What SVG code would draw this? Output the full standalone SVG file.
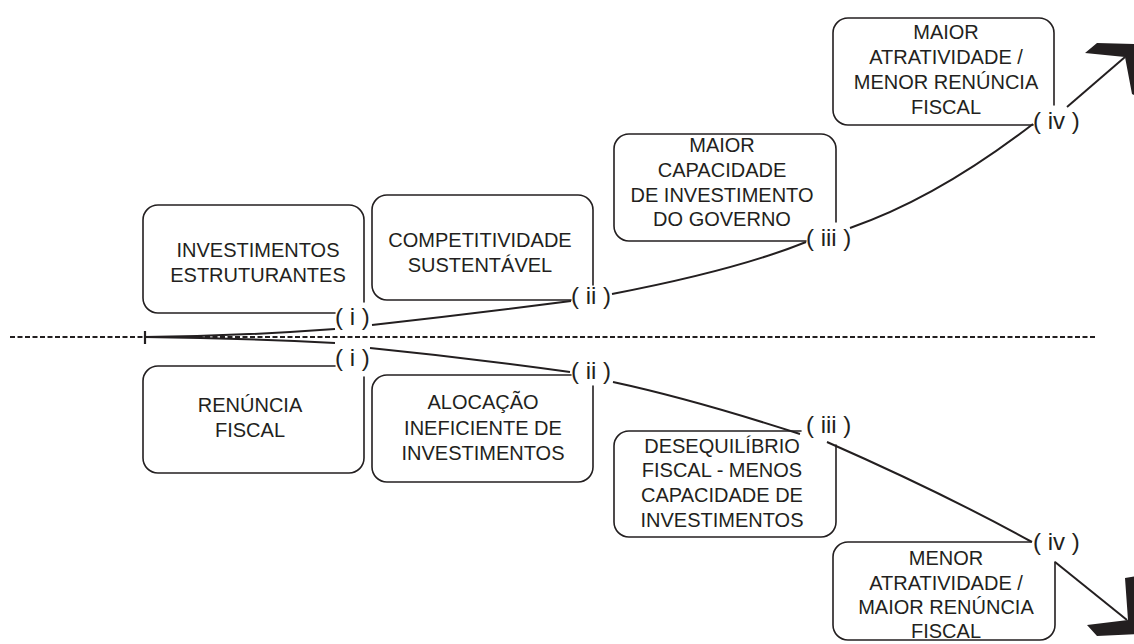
<svg xmlns="http://www.w3.org/2000/svg" width="1134" height="644" viewBox="0 0 1134 644">
  <style>
    .box { fill: none; stroke: #231f20; stroke-width: 1.6; stroke-linecap: round; }
    .txt { font-family: "Liberation Sans", Arial, sans-serif; font-size: 20px; fill: #231f20; text-anchor: middle; }
    .lbl { font-family: "Liberation Sans", Arial, sans-serif; font-size: 24px; fill: #231f20; }
    .conn { fill: none; stroke: #231f20; stroke-width: 2; }
    .head { fill: #231f20; stroke: none; }
  </style>
  <rect width="1134" height="644" fill="#ffffff"/>

  <!-- baseline -->
  <line x1="10" y1="337" x2="1095" y2="337" stroke="#231f20" stroke-width="2" stroke-dasharray="5 2.5"/>

  <!-- connectors -->
  <g id="connectors">
    <line x1="145" y1="331" x2="145" y2="344" stroke="#231f20" stroke-width="2.2"/>
    <!-- upper path -->
    <path class="conn" d="M145,337 Q240,336 335,329"/>
    <path class="conn" d="M372,325 Q470,314 571,301"/>
    <path class="conn" d="M612,294 Q737,270 806,242"/>
    <path class="conn" d="M850,228 Q937,198 1033,124"/>
    <path class="conn" d="M1067,107 L1125,57"/>
    <polygon class="head" points="1085,53 1097,43 1138,44 1140,98 1132,94 1125,57"/>
    <!-- lower path -->
    <path class="conn" d="M145,337 Q240,338 335,343"/>
    <path class="conn" d="M370,348 Q470,358 570,372"/>
    <path class="conn" d="M613,382 Q692,399 800,434"/>
    <path class="conn" d="M827,442 Q943,493 1032,542"/>
    <path class="conn" d="M1055,562 L1127,620"/>
    <polygon class="head" points="1125,578 1138,576 1138,634 1097,636 1087,625 1128,620"/>
  </g>

  <!-- upper nodes -->
  <g id="investimentos-estruturantes">
    <path class="box" d="M364,302 L364,220 A15,15 0 0 0 349,205 L158,205 A15,15 0 0 0 143,220 L143,298 A15,15 0 0 0 158,313 L335,313"/>
    <text class="txt" x="258" y="257">INVESTIMENTOS</text>
    <text class="txt" x="258" y="282">ESTRUTURANTES</text>
    <text class="lbl" x="335" y="325">( i )</text>
  </g>
  <g id="competitividade-sustentavel">
    <path class="box" d="M593,285 L593,210 A15,15 0 0 0 578,195 L387,195 A15,15 0 0 0 372,210 L372,285 A15,15 0 0 0 387,300 L571,300"/>
    <text class="txt" x="480" y="247">COMPETITIVIDADE</text>
    <text class="txt" x="480" y="272">SUSTENTÁVEL</text>
    <text class="lbl" x="571" y="304">( ii )</text>
  </g>
  <g id="maior-capacidade">
    <path class="box" d="M836,222 L836,149 A15,15 0 0 0 821,134 L629,134 A15,15 0 0 0 614,149 L614,226 A15,15 0 0 0 629,241 L806,241"/>
    <text class="txt" x="722" y="152">MAIOR</text>
    <text class="txt" x="722" y="177">CAPACIDADE</text>
    <text class="txt" x="722" y="202">DE INVESTIMENTO</text>
    <text class="txt" x="722" y="226">DO GOVERNO</text>
    <text class="lbl" x="806" y="246">( iii )</text>
  </g>
  <g id="maior-atratividade">
    <path class="box" d="M1054,105 L1054,33 A15,15 0 0 0 1039,18 L848,18 A15,15 0 0 0 833,33 L833,110 A15,15 0 0 0 848,125 L1033,125"/>
    <text class="txt" x="946" y="39">MAIOR</text>
    <text class="txt" x="946" y="64">ATRATIVIDADE /</text>
    <text class="txt" x="946" y="89">MENOR RENÚNCIA</text>
    <text class="txt" x="946" y="114">FISCAL</text>
    <text class="lbl" x="1033" y="129">( iv )</text>
  </g>

  <!-- lower nodes -->
  <g id="renuncia-fiscal">
    <path class="box" d="M335,366 L158,366 A15,15 0 0 0 143,381 L143,458 A15,15 0 0 0 158,473 L349,473 A15,15 0 0 0 364,458 L364,377"/>
    <text class="txt" x="250" y="412">RENÚNCIA</text>
    <text class="txt" x="250" y="437">FISCAL</text>
    <text class="lbl" x="335" y="366">( i )</text>
  </g>
  <g id="alocacao-ineficiente">
    <path class="box" d="M571,375 L387,375 A15,15 0 0 0 372,390 L372,467 A15,15 0 0 0 387,482 L578,482 A15,15 0 0 0 593,467 L593,386"/>
    <text class="txt" x="483" y="409">ALOCAÇÃO</text>
    <text class="txt" x="483" y="435">INEFICIENTE DE</text>
    <text class="txt" x="483" y="460">INVESTIMENTOS</text>
    <text class="lbl" x="571" y="379">( ii )</text>
  </g>
  <g id="desequilibrio-fiscal">
    <path class="box" d="M801,431 L629,431 A15,15 0 0 0 614,446 L614,522 A15,15 0 0 0 629,537 L821,537 A15,15 0 0 0 836,522 L836,445"/>
    <text class="txt" x="722" y="453">DESEQUILÍBRIO</text>
    <text class="txt" x="722" y="477">FISCAL - MENOS</text>
    <text class="txt" x="722" y="502">CAPACIDADE DE</text>
    <text class="txt" x="722" y="527">INVESTIMENTOS</text>
    <text class="lbl" x="806" y="433">( iii )</text>
  </g>
  <g id="menor-atratividade">
    <path class="box" d="M1031,542 L848,542 A15,15 0 0 0 833,557 L833,625 A15,15 0 0 0 848,640 L1040,640 A15,15 0 0 0 1055,625 L1055,562"/>
    <text class="txt" x="946" y="565">MENOR</text>
    <text class="txt" x="946" y="590">ATRATIVIDADE /</text>
    <text class="txt" x="946" y="614">MAIOR RENÚNCIA</text>
    <text class="txt" x="946" y="638">FISCAL</text>
    <text class="lbl" x="1033" y="550">( iv )</text>
  </g>
</svg>
